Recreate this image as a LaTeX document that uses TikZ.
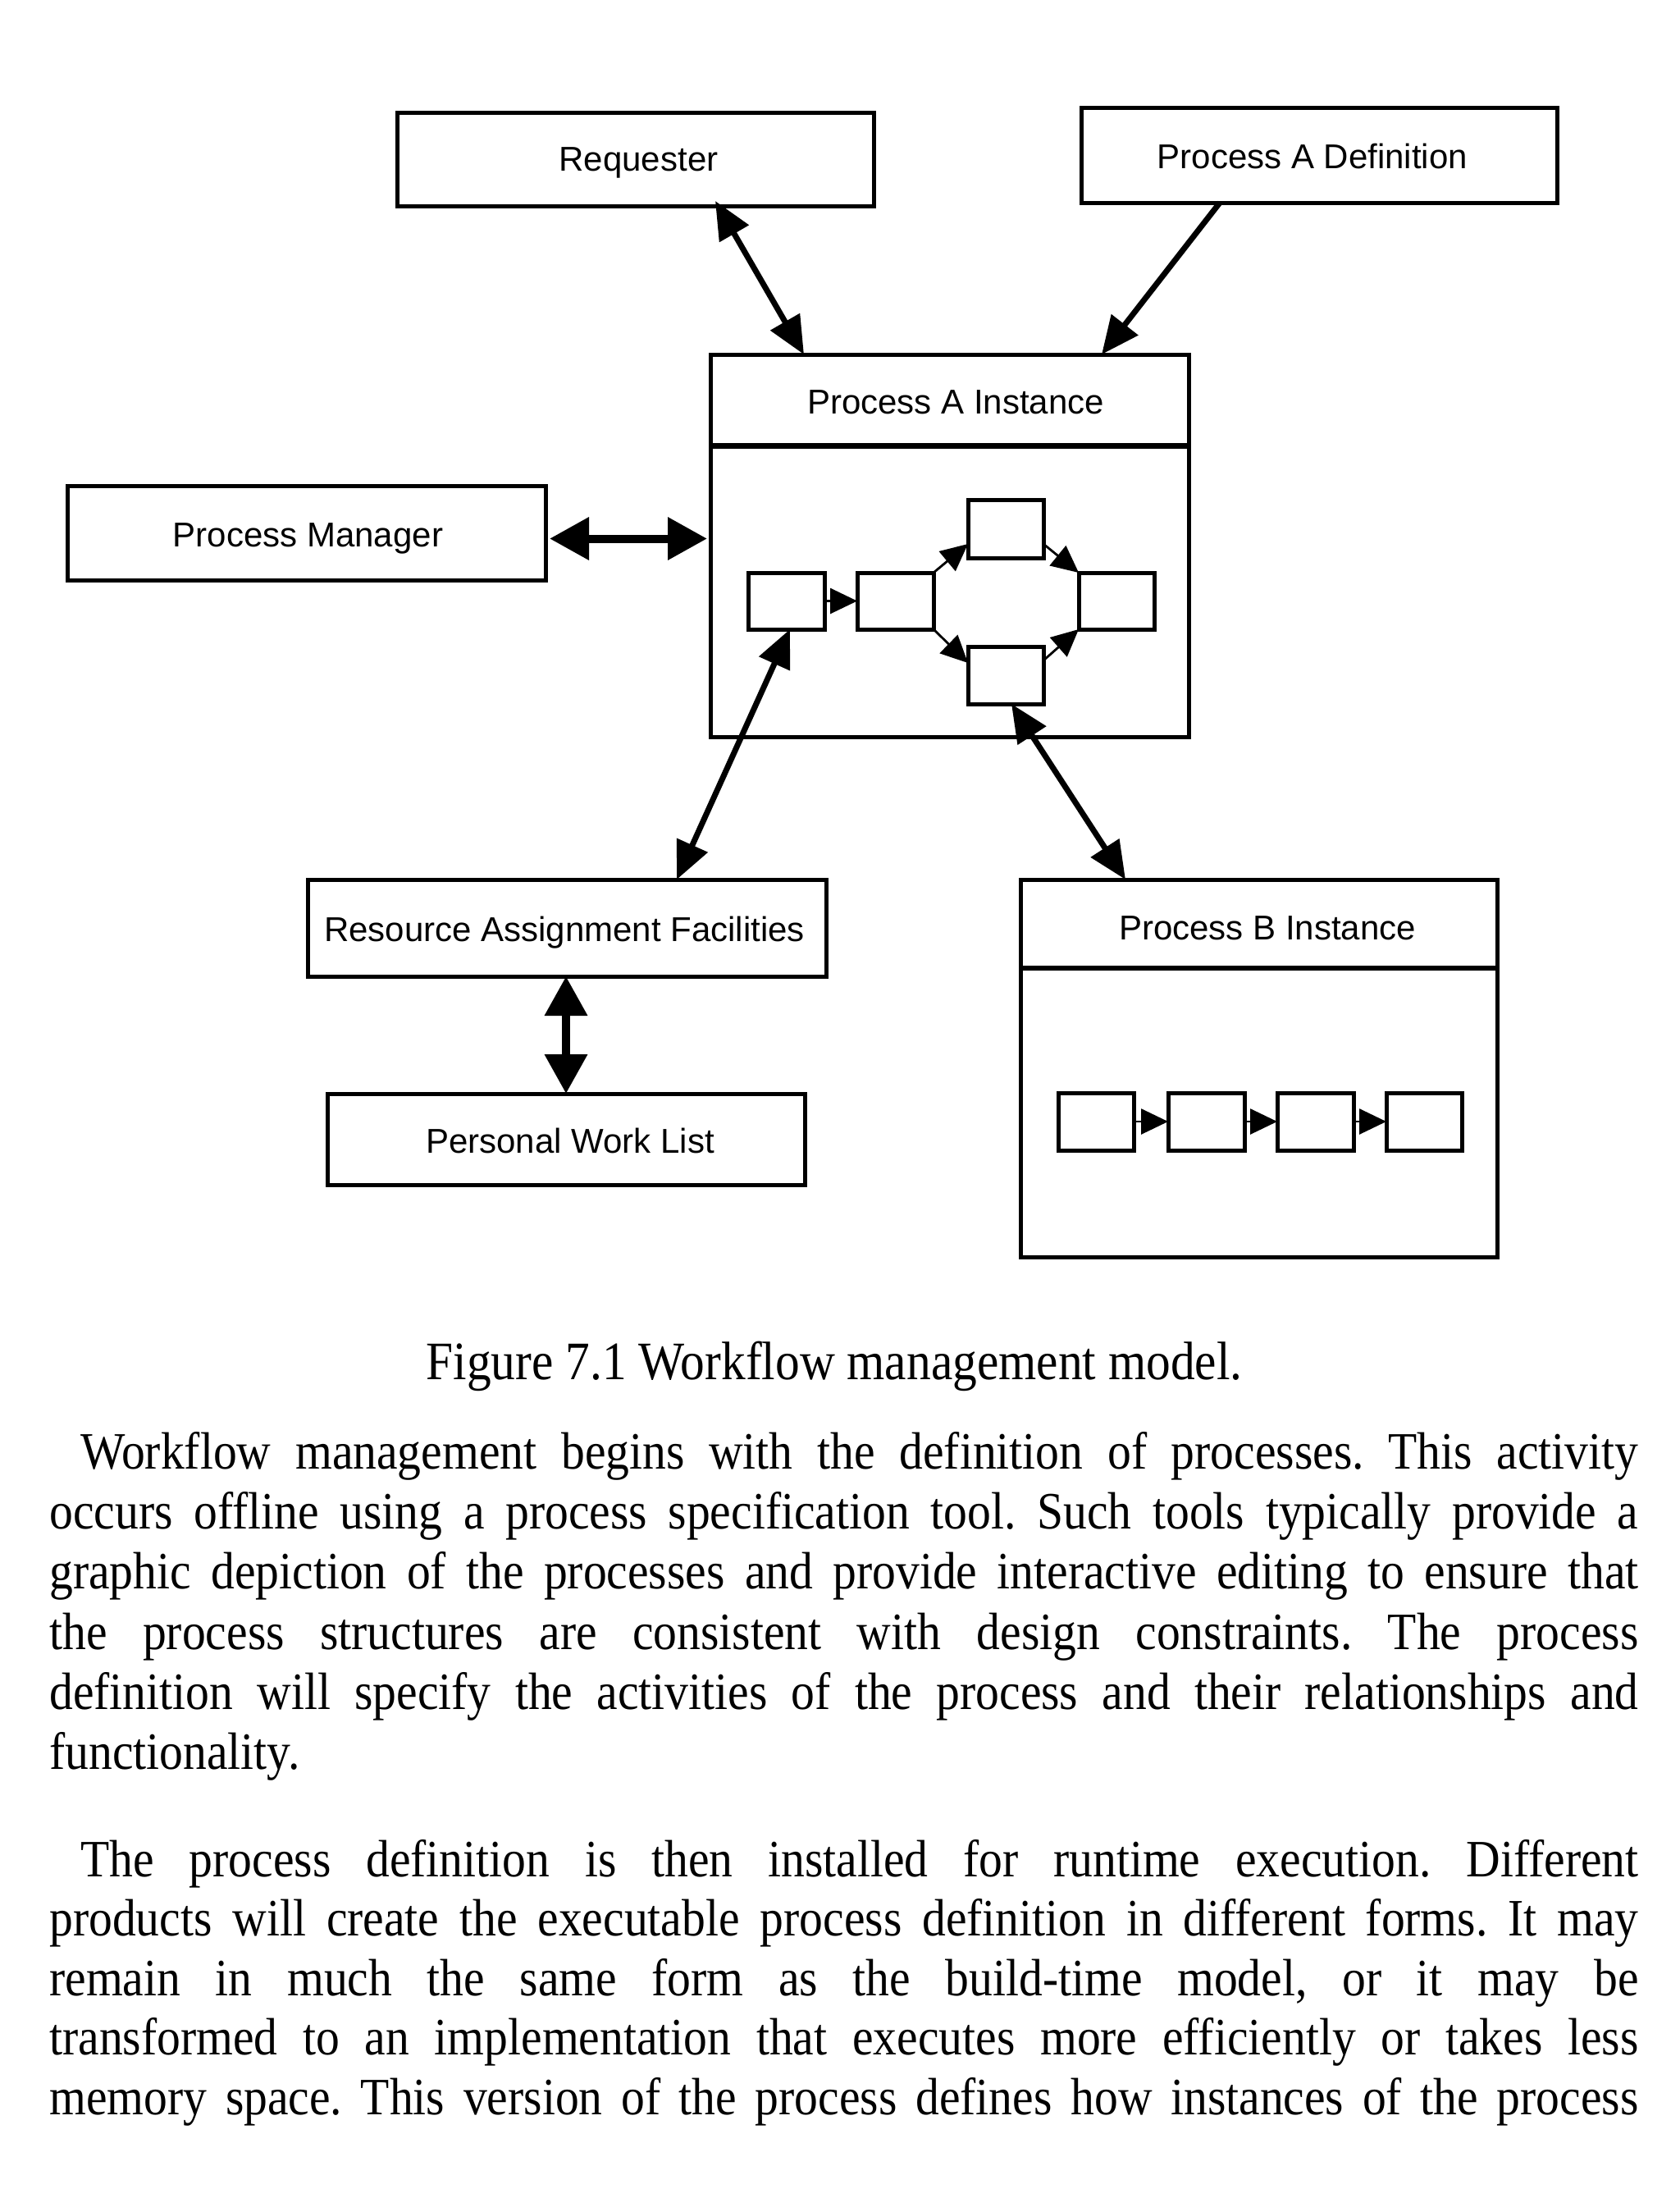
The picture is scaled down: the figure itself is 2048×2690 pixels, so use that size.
\documentclass[tikz,border=0pt]{standalone}
\usepackage{fontspec}
\setmainfont{Liberation Serif}[FakeStretch=0.9]
\newfontfamily\diagfont{Liberation Sans}
\usetikzlibrary{arrows.meta,calc,fit}
\begin{document}
\frenchspacing
\begin{tikzpicture}[x=0.5pt,y=-0.5pt,
  box/.style={draw,line width=2.5pt,inner sep=0pt,outer sep=0pt},
  sbox/.style={draw,line width=2.5pt,inner sep=0pt,outer sep=0pt},
  lbl/.style={inner sep=0pt,font=\diagfont\fontsize{21}{24}\selectfont},
  barrow/.style={line width=3.5pt,{Triangle[length=23pt,width=20pt]}-{Triangle[length=23pt,width=20pt]}},
  sgarrow/.style={line width=3.5pt,-{Triangle[length=23pt,width=20pt]}},
  farrow/.style={line width=5pt,{Triangle[length=24pt,width=25pt]}-{Triangle[length=24pt,width=25pt]}},
  sarrow/.style={line width=1.4pt,-{Triangle[length=16.5pt,width=15.5pt]}},
  txt/.style={anchor=base west,inner sep=0pt,font=\fontsize{32}{36}\selectfont},
  captxt/.style={anchor=base,inner sep=0pt,font=\fontsize{33}{36}\selectfont}]
\useasboundingbox[fill=white] (0,0) rectangle (2048,2690);

% top boxes
\node[box,fit={(484,137) (1065,251)}] (req) {};
\node[lbl] (reqt) at ($(req.center)+(4,4)$) {Requester};
\node[box,fit={(1318,131) (1898,247)}] (pad) {};
\node[lbl] (padt) at ($(pad.center)+(-8,1)$) {Process A Definition};
\node[box,fit={(82,592) (665,707)}] (pm) {};
\node[lbl] (pmt) at ($(pm.center)+(2,7)$) {Process Manager};

% Process A Instance
\node[box,fit={(866,432) (1449,898)}] (pai) {};
\draw[line width=3.5pt] ($(pai.north west)+(0,111)$) -- ($(pai.north east)+(0,111)$);
\node[lbl] (pait) at (1165,490) {Process A Instance};
\node[sbox,fit={(912,698) (1005,767)}] (a1) {};
\node[sbox,fit={(1045,698) (1138,767)}] (a2) {};
\node[sbox,fit={(1180,609) (1272,680)}] (at) {};
\node[sbox,fit={(1180,788) (1272,858)}] (ab) {};
\node[sbox,fit={(1315,698) (1407,767)}] (ar) {};
\draw[sarrow] (a1.east) -- (a2.west);
\draw[sarrow] (a2.north east) -- ($(at.south west)+(0,-17)$);
\draw[sarrow] ($(at.south east)+(0,-17)$) -- (ar.north west);
\draw[sarrow] (a2.south east) -- ($(ab.north west)+(0,20)$);
\draw[sarrow] ($(ab.north east)+(0,17)$) -- (ar.south west);

% lower boxes
\node[box,fit={(375,1072) (1007,1190)}] (raf) {};
\node[lbl] (raft) at ($(raf.center)+(-3,6)$) {Resource Assignment Facilities};
\node[box,fit={(399,1333) (981,1444)}] (pwl) {};
\node[lbl] (pwlt) at ($(pwl.center)+(5,2)$) {Personal Work List};

% Process B Instance
\node[box,fit={(1244,1072) (1825,1532)}] (pbi) {};
\draw[line width=2.8pt] ($(pbi.north west)+(0,108)$) -- ($(pbi.north east)+(0,108)$);
\node[lbl] (pbit) at (1545,1131) {Process B Instance};
\node[sbox,fit={(1290,1332) (1382,1402)}] (b1) {};
\node[sbox,fit={(1424,1332) (1517,1402)}] (b2) {};
\node[sbox,fit={(1557,1332) (1650,1402)}] (b3) {};
\node[sbox,fit={(1690,1332) (1782,1402)}] (b4) {};
\draw[sarrow] (b1.east) -- (b2.west);
\draw[sarrow] (b2.east) -- (b3.west);
\draw[sarrow] (b3.east) -- (b4.west);

% main connectors
\draw[barrow] ($(req.south west)+(388,-6)$) -- ($(pai.north west)+(114,0)$);
\draw[sgarrow] ($(pad.south west)+(169,0)$) -- ($(pai.north west)+(477,0)$);
\draw[farrow] ($(pm.east)+(5,7)$) -- ($(pm.east -| pai.west)+(-4,7)$);
\draw[barrow] ($(raf.north west)+(450,0)$) -- ($(a1.south west)+(51,0)$);
\draw[barrow] ($(ab.south west)+(53,0)$) -- ($(pbi.north west)+(128,0)$);
\draw[farrow] (pwl.north |- raf.south) -- (pwl.north);

% caption
\node[captxt] (caption) at (1017,1681) {Figure 7.1 Workflow management model.};

% body text
\node[txt] (l1) at (98,1790) {\makebox[949.5pt][s]{Workflow management begins with the definition of processes. This activity}};
\node[txt] (l2) at (60,1863) {\makebox[968.5pt][s]{occurs offline using a process specification tool. Such tools typically provide a}};
\node[txt] (l3) at (60,1936) {\makebox[968.5pt][s]{graphic depiction of the processes and provide interactive editing to ensure that}};
\node[txt] (l4) at (60,2010) {\makebox[968.5pt][s]{the process structures are consistent with design constraints. The process}};
\node[txt] (l5) at (60,2083) {\makebox[968.5pt][s]{definition will specify the activities of the process and their relationships and}};
\node[txt] (l6) at (60,2156) {functionality.};

\node[txt] (m1) at (98,2287) {\makebox[949.5pt][s]{The process definition is then installed for runtime execution. Different}};
\node[txt] (m2) at (60,2359) {\makebox[968.5pt][s]{products will create the executable process definition in different forms. It may}};
\node[txt] (m3) at (60,2432) {\makebox[968.5pt][s]{remain in much the same form as the build-time model, or it may be}};
\node[txt] (m4) at (60,2504) {\makebox[968.5pt][s]{transformed to an implementation that executes more efficiently or takes less}};
\node[txt] (m5) at (60,2577) {\makebox[968.5pt][s]{memory space. This version of the process defines how instances of the process}};
\end{tikzpicture}
\end{document}
